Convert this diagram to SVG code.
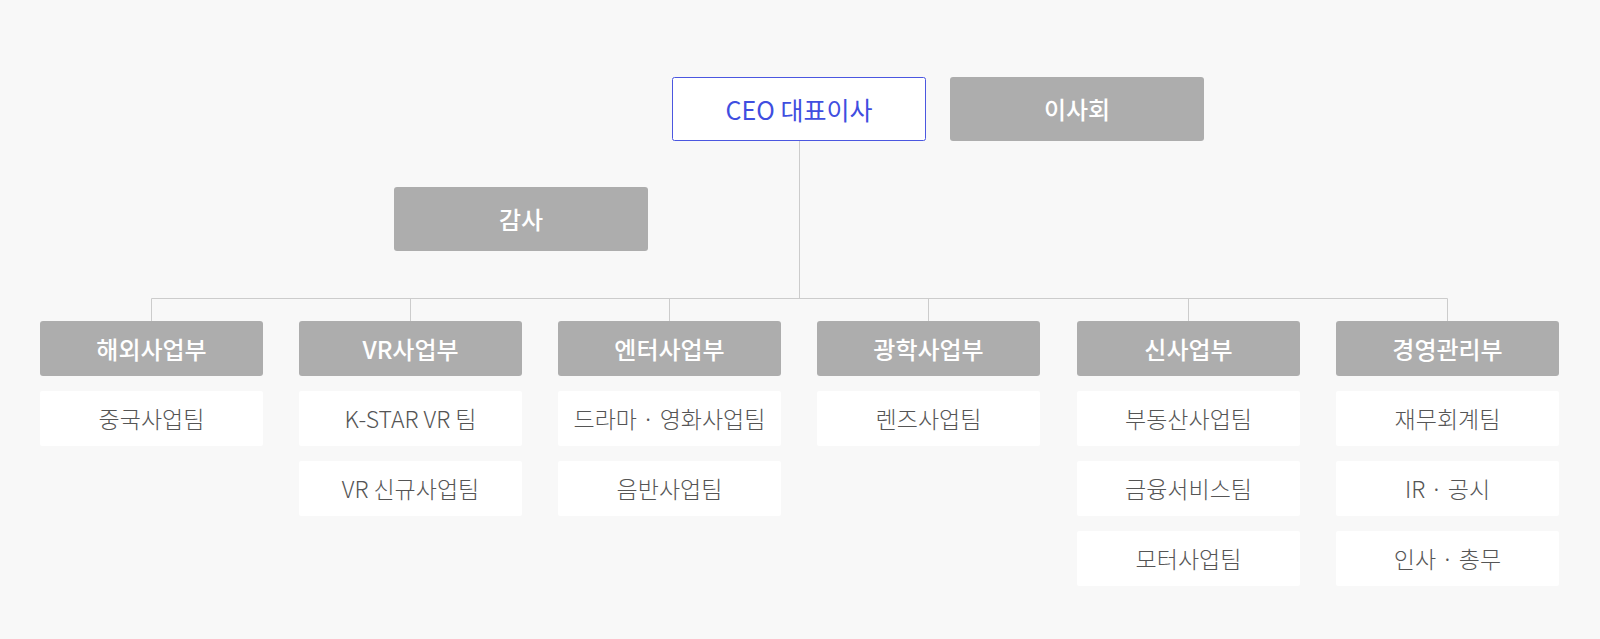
<svg xmlns="http://www.w3.org/2000/svg" width="1600" height="639" viewBox="0 0 1600 639">
<style>
.bg{fill:#f8f8f8}
.gray rect{fill:#adadad}
.gray text{fill:#ffffff;font-weight:500;font-size:24px}
.team rect{fill:#ffffff}
.team text{fill:#555555;font-weight:300;font-size:23px}
text{font-family:"Noto Sans CJK KR","Noto Sans",sans-serif;font-size:22px;text-anchor:middle;dominant-baseline:central}
.ceo rect{fill:#ffffff;stroke:#4b57e0;stroke-width:1}
.ceo text{fill:#3f4ee0;font-size:25px;font-weight:400}
.conn line{stroke:#cccccc;stroke-width:1}
</style>
<rect class="bg" x="0" y="0" width="1600" height="639"/>
<g class="conn">
<line x1="799.5" y1="141" x2="799.5" y2="298.5"/>
<line x1="151.5" y1="298.5" x2="1447.5" y2="298.5"/>
<line x1="151.5" y1="298.5" x2="151.5" y2="321"/>
<line x1="410.5" y1="298.5" x2="410.5" y2="321"/>
<line x1="669.5" y1="298.5" x2="669.5" y2="321"/>
<line x1="928.5" y1="298.5" x2="928.5" y2="321"/>
<line x1="1188.5" y1="298.5" x2="1188.5" y2="321"/>
<line x1="1447.5" y1="298.5" x2="1447.5" y2="321"/>
</g>
<g id="ceo" class="ceo">
<rect x="672.5" y="77.5" width="253" height="63" rx="2"/>
<text x="799" y="108.5">CEO 대표이사</text>
</g>
<g id="board" class="gray">
<rect x="950" y="77" width="254" height="64" rx="3"/>
<text x="1077" y="108.5">이사회</text>
</g>
<g id="audit" class="gray">
<rect x="394" y="187" width="254" height="64" rx="3"/>
<text x="521" y="218.5">감사</text>
</g>
<g id="dept1" class="gray"><rect x="40" y="321" width="223" height="55" rx="3"/><text x="151.5" y="348">해외사업부</text></g>
<g id="dept2" class="gray"><rect x="299" y="321" width="223" height="55" rx="3"/><text x="410.5" y="348">VR사업부</text></g>
<g id="dept3" class="gray"><rect x="558" y="321" width="223" height="55" rx="3"/><text x="669.5" y="348">엔터사업부</text></g>
<g id="dept4" class="gray"><rect x="817" y="321" width="223" height="55" rx="3"/><text x="928.5" y="348">광학사업부</text></g>
<g id="dept5" class="gray"><rect x="1077" y="321" width="223" height="55" rx="3"/><text x="1188.5" y="348">신사업부</text></g>
<g id="dept6" class="gray"><rect x="1336" y="321" width="223" height="55" rx="3"/><text x="1447.5" y="348">경영관리부</text></g>
<g id="team1-1" class="team"><rect x="40" y="391" width="223" height="55" rx="2"/><text x="151.5" y="418">중국사업팀</text></g>
<g id="team2-1" class="team"><rect x="299" y="391" width="223" height="55" rx="2"/><text x="410.5" y="418">K-STAR VR 팀</text></g>
<g id="team2-2" class="team"><rect x="299" y="461" width="223" height="55" rx="2"/><text x="410.5" y="488">VR 신규사업팀</text></g>
<g id="team3-1" class="team"><rect x="558" y="391" width="223" height="55" rx="2"/><text x="669.5" y="418">드라마 · 영화사업팀</text></g>
<g id="team3-2" class="team"><rect x="558" y="461" width="223" height="55" rx="2"/><text x="669.5" y="488">음반사업팀</text></g>
<g id="team4-1" class="team"><rect x="817" y="391" width="223" height="55" rx="2"/><text x="928.5" y="418">렌즈사업팀</text></g>
<g id="team5-1" class="team"><rect x="1077" y="391" width="223" height="55" rx="2"/><text x="1188.5" y="418">부동산사업팀</text></g>
<g id="team5-2" class="team"><rect x="1077" y="461" width="223" height="55" rx="2"/><text x="1188.5" y="488">금융서비스팀</text></g>
<g id="team5-3" class="team"><rect x="1077" y="531" width="223" height="55" rx="2"/><text x="1188.5" y="558">모터사업팀</text></g>
<g id="team6-1" class="team"><rect x="1336" y="391" width="223" height="55" rx="2"/><text x="1447.5" y="418">재무회계팀</text></g>
<g id="team6-2" class="team"><rect x="1336" y="461" width="223" height="55" rx="2"/><text x="1447.5" y="488">IR · 공시</text></g>
<g id="team6-3" class="team"><rect x="1336" y="531" width="223" height="55" rx="2"/><text x="1447.5" y="558">인사 · 총무</text></g>
</svg>
